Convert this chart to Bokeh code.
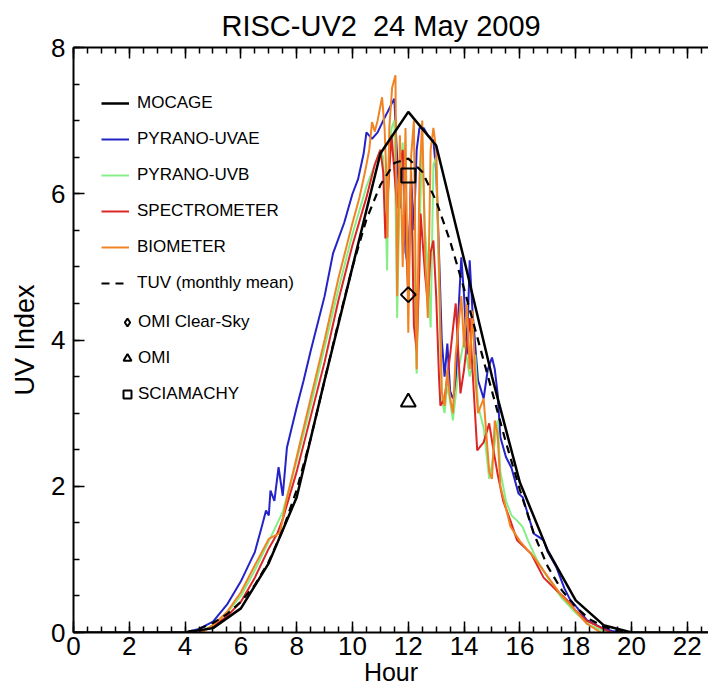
from bokeh.plotting import figure
from bokeh.models import (LinearAxis, SingleIntervalTicker, Range1d, Legend, LegendItem)
from bokeh.embed import file_html
from bokeh.resources import INLINE
import math

# ---------------- data ----------------
MOCAGE_T = [0, 1, 2, 3, 4, 5, 6, 7, 8, 9, 10, 11, 12, 13, 14, 15, 16, 17, 18, 19, 20, 21, 22, 23]
MOCAGE_Y = [0, 0, 0, 0, 0, 0.06, 0.33, 0.95, 1.85, 3.45, 5.0, 6.55, 7.12, 6.66, 5.1, 3.5,
            2.05, 1.12, 0.44, 0.1, 0, 0, 0, 0]

TUV_T = [4.0, 4.5, 5.0, 5.5, 6.0, 6.5, 7.0, 7.5, 8.0, 8.5, 9.0, 9.5, 10.0, 10.5, 11.0, 11.5,
         12.0, 12.5, 13.0, 13.5, 14.0, 14.5, 15.0, 15.5, 16.0, 16.5, 17.0, 17.5, 18.0, 18.5,
         19.0, 19.5, 20.0]
TUV_Y = [0.0, 0.05, 0.13, 0.25, 0.42, 0.65, 0.97, 1.4, 1.95, 2.65, 3.45, 4.25, 5.0, 5.65,
         6.12, 6.42, 6.48, 6.3, 5.9, 5.35, 4.7, 4.0, 3.3, 2.6, 1.95, 1.35, 0.9, 0.58, 0.35,
         0.18, 0.08, 0.02, 0.0]

UVAE_T = [4.0, 4.5, 5.0, 5.5, 6.0, 6.25, 6.5, 6.75, 6.9, 7.0, 7.06, 7.2, 7.35, 7.5, 7.65, 8.0,
          8.25, 8.5, 9.0, 9.3, 9.7, 10.0, 10.2, 10.4, 10.5, 10.7, 10.9, 11.1, 11.3, 11.4, 11.5,
          11.6, 11.7, 11.8, 11.9, 12.0, 12.1, 12.2, 12.3, 12.4, 12.55, 12.7, 12.9, 13.0, 13.1,
          13.2, 13.3, 13.4, 13.5, 13.6, 13.7, 13.8, 13.9, 14.0, 14.1, 14.2, 14.3, 14.5, 14.7,
          14.85, 15.0, 15.1, 15.2, 15.3, 15.5, 15.7, 15.95, 16.1, 16.3, 16.5, 16.7, 16.85, 17.0,
          17.3, 17.6, 17.8, 18.05, 18.4, 18.9, 19.3, 19.6]
UVAE_Y = [0.0, 0.05, 0.15, 0.38, 0.7, 0.9, 1.1, 1.45, 1.67, 1.6, 1.94, 1.8, 2.26, 1.87, 2.53,
          3.08, 3.45, 3.85, 4.6, 5.18, 5.6, 6.0, 6.2, 6.55, 6.84, 6.75, 6.84, 7.0, 7.15, 7.23,
          7.3, 6.5, 5.8, 6.6, 5.2, 5.0, 6.2, 5.5, 6.6, 6.9, 6.9, 6.8, 6.73, 6.3, 5.2, 4.0, 3.5,
          3.95, 3.3, 3.2, 3.3, 4.4, 5.13, 4.6, 3.8, 5.09, 4.4, 3.45, 3.2, 3.6, 3.76, 3.6, 3.27,
          2.67, 2.4, 2.25, 1.9, 1.85, 1.6, 1.35, 1.3, 1.26, 1.1, 0.9, 0.6, 0.45, 0.34, 0.17,
          0.07, 0.02, 0.0]

UVB_T = [4.5, 5.0, 5.5, 6.0, 6.5, 7.0, 7.5, 8.0, 8.5, 9.0, 9.5, 10.0, 10.5, 10.8, 11.0, 11.1,
         11.2, 11.24, 11.3, 11.4, 11.5, 11.6, 11.7, 11.8, 11.9, 12.0, 12.1, 12.2, 12.3, 12.4,
         12.5, 12.6, 12.7, 12.8, 12.9, 13.0, 13.1, 13.2, 13.3, 13.4, 13.6, 13.8, 14.0, 14.2,
         14.4, 14.5, 14.7, 14.9, 15.0, 15.2, 15.3, 15.5, 15.7, 15.9, 16.1, 16.3, 16.6, 17.0,
         17.5, 18.0, 18.5, 19.0, 19.3]
UVB_Y = [0.0, 0.1, 0.27, 0.5, 0.85, 1.25, 1.65, 2.35, 3.1, 3.9, 4.7, 5.45, 6.1, 6.4, 6.6, 6.5,
         5.6, 4.95, 6.5, 6.9, 7.0, 4.3, 6.2, 6.7, 5.4, 4.8, 6.0, 5.0, 3.54, 5.5, 6.7, 5.5, 5.0,
         4.17, 6.4, 6.5, 4.8, 3.2, 3.0, 3.4, 2.9, 3.6, 4.0, 3.5, 3.8, 3.1, 2.8, 2.1, 2.3, 2.9,
         2.2, 1.8, 1.6, 1.53, 1.44, 1.25, 1.0, 0.75, 0.47, 0.27, 0.1, 0.02, 0.0]

SPEC_T = [4.5, 5.0, 5.5, 6.0, 6.5, 7.0, 7.3, 7.5, 8.0, 8.5, 9.0, 9.5, 10.0, 10.5, 10.8, 11.0,
          11.1, 11.18, 11.3, 11.4, 11.5, 11.6, 11.7, 11.8, 11.9, 12.0, 12.1, 12.2, 12.3, 12.4,
          12.44, 12.6, 12.7, 12.8, 12.9, 13.0, 13.1, 13.15, 13.3, 13.5, 13.7, 13.87, 14.0, 14.2,
          14.3, 14.47, 14.7, 14.9, 15.05, 15.2, 15.4, 15.66, 15.9, 16.4, 16.85, 17.3, 17.7,
          18.0, 18.4, 19.1, 19.3]
SPEC_Y = [0.0, 0.08, 0.22, 0.42, 0.75, 1.15, 1.35, 1.55, 2.2, 2.95, 3.7, 4.55, 5.3, 5.95, 6.4,
          6.6, 6.3, 5.39, 6.2, 6.8, 6.3, 5.8, 6.4, 6.6, 5.5, 4.6, 6.3, 4.2, 3.86, 5.0, 5.73,
          4.9, 4.5, 5.2, 5.36, 4.6, 3.5, 3.1, 3.2, 3.8, 4.5, 3.27, 3.6, 4.3, 3.6, 2.49, 2.6,
          2.86, 2.5, 2.17, 1.8, 1.53, 1.26, 1.08, 0.75, 0.58, 0.44, 0.3, 0.16, 0.03, 0.0]

BIO_T = [4.6, 4.8, 5.0, 5.5, 6.0, 6.5, 7.0, 7.2, 7.4, 7.6, 8.0, 8.5, 9.0, 9.5, 10.0, 10.25,
         10.45, 10.6, 10.7, 10.8, 10.9, 11.06, 11.15, 11.2, 11.25, 11.32, 11.42, 11.54, 11.6,
         11.7, 11.8, 11.9, 12.0, 12.1, 12.2, 12.3, 12.4, 12.5, 12.6, 12.7, 12.8, 12.9, 13.0,
         13.1, 13.2, 13.3, 13.4, 13.5, 13.6, 13.7, 13.8, 13.9, 14.0, 14.1, 14.2, 14.3, 14.4,
         14.5, 14.7, 14.9, 15.0, 15.1, 15.2, 15.3, 15.5, 15.66, 16.0, 16.5, 17.1, 17.5, 17.9,
         18.4, 18.9]
BIO_Y = [0.0, 0.05, 0.1, 0.28, 0.55, 0.92, 1.28, 1.32, 1.36, 1.75, 2.4, 3.2, 4.0, 4.85, 5.6,
         5.95, 6.3, 6.6, 6.98, 6.85, 7.0, 7.32, 6.9, 6.4, 5.4, 6.9, 7.45, 7.62, 4.6, 6.8, 5.0,
         6.9, 4.1, 6.5, 7.0, 3.6, 6.2, 7.0, 5.2, 4.3, 6.6, 6.9, 6.6, 5.0, 3.3, 3.1, 3.6, 3.2,
         3.0, 3.8, 4.2, 4.6, 3.9, 4.5, 3.6, 4.4, 3.5, 3.0, 3.2, 2.2, 2.1, 2.9, 2.72, 2.0, 1.7,
         1.45, 1.25, 1.03, 0.71, 0.5, 0.34, 0.12, 0.0]

SAT_HOUR = 12.0
OMI_CLEAR = 4.62
OMI = 3.15
SCIAMACHY = 6.25

X_TICKS_STEP = 2
Y_TICKS_STEP = 2

# ---------------- figure ----------------
FONT = "Liberation Sans"

p = figure(width=708, height=695, x_range=Range1d(0, 22.76), y_range=Range1d(0, 8),
           output_backend="svg", toolbar_location=None,
           min_border_left=73, min_border_right=0, min_border_top=47, min_border_bottom=63)
p.grid.visible = False
p.outline_line_color = None
p.background_fill_color = "white"
p.border_fill_color = "white"

p.title.text = "RISC-UV2\u00a0 24 May 2009"
p.title.text_font = FONT
p.title.text_font_size = "29px"
p.title.text_font_style = "normal"
p.title.text_color = "black"
p.title.align = "left"
p.title.offset = 148
p.title.standoff = 12

xt = SingleIntervalTicker(interval=X_TICKS_STEP, num_minor_ticks=4)
yt = SingleIntervalTicker(interval=Y_TICKS_STEP, num_minor_ticks=4)


def style_axis(ax):
    ax.axis_line_width = 2
    ax.axis_line_color = "black"
    ax.major_tick_in = 11
    ax.major_tick_out = 0
    ax.minor_tick_in = 6
    ax.minor_tick_out = 0
    ax.major_tick_line_width = 1.5
    ax.minor_tick_line_width = 1.5
    ax.major_label_text_font = FONT
    ax.major_label_text_font_size = "26px"
    ax.major_label_text_color = "black"
    ax.axis_label_text_font = FONT
    ax.axis_label_text_font_size = "25px"
    ax.axis_label_text_font_style = "normal"
    ax.axis_label_text_color = "black"


xa = p.xaxis[0]
xa.ticker = xt
style_axis(xa)
xa.axis_label = "Hour"
xa.major_label_standoff = 4
xa.axis_label_standoff = 0

ya = p.yaxis[0]
ya.ticker = yt
style_axis(ya)
ya.axis_label = "UV Index"
ya.axis_label_text_font_size = "27px"
ya.major_label_standoff = 8
ya.axis_label_standoff = 8

top = LinearAxis(ticker=SingleIntervalTicker(interval=X_TICKS_STEP, num_minor_ticks=4))
style_axis(top)
top.major_label_text_font_size = "1px"
top.major_label_text_color = None
top.major_label_standoff = 0
p.add_layout(top, "above")

# ---------------- series ----------------
LW = 2
r_uvae = p.line(UVAE_T, UVAE_Y, line_color="#2323c8", line_width=LW)
r_uvb = p.line(UVB_T, UVB_Y, line_color="#86ee86", line_width=LW)
r_spec = p.line(SPEC_T, SPEC_Y, line_color="#dc2626", line_width=LW)
r_bio = p.line(BIO_T, BIO_Y, line_color="#f08424", line_width=LW)
r_moc = p.line(MOCAGE_T, MOCAGE_Y, line_color="black", line_width=2.5)
r_tuv = p.line(TUV_T, TUV_Y, line_color="black", line_width=2.2, line_dash="8 6")

r_clear = p.scatter([SAT_HOUR], [OMI_CLEAR], marker="square", angle=math.pi / 4, size=10.5,
                    fill_color=None, line_color="black", line_width=2)
r_omi = p.scatter([SAT_HOUR], [OMI], marker="triangle", size=15,
                  fill_color=None, line_color="black", line_width=2)
r_scia = p.scatter([SAT_HOUR], [SCIAMACHY], marker="square", size=14,
                   fill_color=None, line_color="black", line_width=2)
# key-only proxy (value is NaN, so nothing is drawn in the plot) showing a diamond
r_clear_key = p.scatter(x=[SAT_HOUR], y=[float("nan")], marker="diamond", size=10,
                        fill_color=None, line_color="black", line_width=2)

# ---------------- legends ----------------
leg1 = Legend(items=[
    LegendItem(label="MOCAGE", renderers=[r_moc]),
    LegendItem(label="PYRANO-UVAE", renderers=[r_uvae]),
    LegendItem(label="PYRANO-UVB", renderers=[r_uvb]),
    LegendItem(label="SPECTROMETER", renderers=[r_spec]),
    LegendItem(label="BIOMETER", renderers=[r_bio]),
    LegendItem(label="TUV (monthly mean)", renderers=[r_tuv]),
], location=(28, 339), padding=0, margin=0, spacing=16, glyph_width=28, glyph_height=20,
    label_height=20, label_standoff=8, border_line_color=None, background_fill_alpha=0,
    label_text_font=FONT, label_text_font_size="17px", label_text_color="black")

leg2 = Legend(items=[
    LegendItem(label="OMI Clear-Sky", renderers=[r_clear_key]),
    LegendItem(label="OMI", renderers=[r_omi]),
    LegendItem(label="SCIAMACHY", renderers=[r_scia]),
], location=(44, 228), padding=0, margin=0, spacing=16, glyph_width=20, glyph_height=20,
    label_height=20, label_standoff=1, border_line_color=None, background_fill_alpha=0,
    label_text_font=FONT, label_text_font_size="17px", label_text_color="black")

p.add_layout(leg1)
p.add_layout(leg2)

open("out.html", "w").write(file_html(p, INLINE))
